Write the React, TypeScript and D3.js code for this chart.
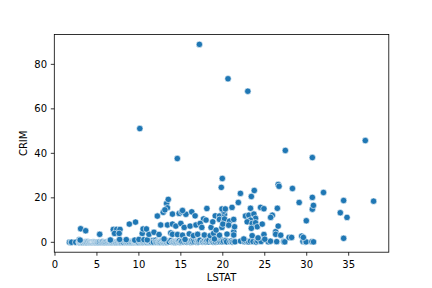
import React from "react";
import * as d3 from "d3";

// [LSTAT, CRIM] pairs
const lowBand: [number, number][] = [
  [1.73,0.02],[1.92,0.06],[1.98,0.03],[2.47,0.05],[2.87,0.09],[2.88,0.02],[2.94,0.03],[2.96,0.04],[2.97,0.01],[2.98,0.06],
  [3.01,0.03],[3.11,0.05],[3.16,0.1],[3.26,0.02],[3.33,0.04],[3.53,0.08],[3.54,0.03],[3.56,0.06],[3.57,0.2],[3.59,0.02],
  [3.7,0.13],[3.76,0.04],[3.81,0.05],[3.92,0.07],[3.95,0.3],[4.03,0.03],[4.14,0.06],[4.16,0.02],[4.21,0.09],[4.32,0.04],
  [4.38,0.1],[4.45,0.05],[4.5,0.03],[4.56,0.2],[4.59,0.06],[4.61,0.04],[4.63,0.08],[4.67,0.02],[4.69,0.05],[4.7,0.12],
  [4.73,0.03],[4.74,0.06],[4.81,0.04],[4.82,0.09],[4.84,0.03],[4.85,0.05],[4.86,0.02],[4.97,0.07],[4.98,0.01],
  [5.03,0.05],[5.08,0.1],[5.12,0.03],[5.21,0.03],[5.29,0.2],[5.33,0.07],[5.49,0.04],[5.52,0.06],[5.64,0.1],[5.7,0.3],
  [5.81,0.05],[5.9,0.02],[5.99,0.08],[6.05,0.04],[6.15,0.15],[6.27,0.06],[6.36,0.03],[6.47,0.1],[6.53,0.05],[6.58,0.62],
  [6.65,0.04],[6.72,0.09],[6.78,0.02],[6.86,0.07],[6.92,0.3],[7.01,0.05],[7.14,0.11],[7.2,0.03],[7.26,0.06],[7.37,0.2],
  [7.44,0.04],[7.53,0.08],[7.6,0.5],[7.7,0.05],[7.79,0.1],[7.85,0.03],[7.9,0.07],[8.05,0.15],[8.16,0.04],[8.26,0.63],
  [8.43,0.06],[8.47,0.63],[8.58,0.1],[8.65,0.05],[8.77,0.2],[8.88,0.04],[9.04,0.08],[9.1,0.3],[9.14,0.03],[9.25,0.06],
  [9.38,0.12],[9.45,0.05],[9.5,0.4],[9.53,0.07],[9.59,0.03],[9.64,0.1],[9.69,0.25],[9.8,0.06],[9.88,0.09],[9.97,0.04],
  [10.13,0.3],[10.19,0.08],[10.26,0.64],[10.3,0.05],[10.4,0.2],[10.45,0.1],[10.53,0.06],[10.59,0.5],[10.74,0.09],[10.88,0.15],
  [10.97,0.04],[11.1,0.3],[11.22,0.08],[11.28,0.73],[11.34,0.06],[11.41,0.2],[11.48,0.1],[11.64,0.4],[11.69,0.8],[11.74,0.05],
  [11.98,0.9],[12.03,0.12],[12.13,0.07],[12.26,0.3],[12.34,0.05],[12.43,0.09],[12.5,0.2],[12.6,0.06],[12.67,0.5],[12.8,0.77],
  [12.87,0.1],[12.93,0.04],[13.04,0.35],[13.11,0.08],[13.22,0.15],[13.27,0.12],[13.34,0.06],[13.45,0.6],[13.51,0.1],[13.61,0.2],
  [13.83,0.85],[13.98,0.07],[14.1,0.3],[14.15,0.1],[14.27,0.05],[14.36,0.4],[14.43,0.15],[14.52,0.08],[14.64,0.2],[14.69,0.5],
  [14.79,0.1],[14.81,0.67],[14.98,0.06],[15.03,0.25],[15.12,0.4],[15.37,0.1],[15.55,0.3],[15.7,0.09],[15.71,0.09],[15.84,0.5],
  [15.94,0.2],[16.14,0.06],[16.22,0.35],[16.3,0.75],[16.42,0.12],[16.51,0.84],[16.65,0.2],[16.9,0.08],[16.96,0.4],[17.1,0.17],
  [17.16,0.6],[17.28,0.96],[17.58,0.15],[17.64,0.3],[17.79,0.5],[17.93,0.1],[18.05,0.25],[18.13,0.7],[18.33,0.2],[18.35,0.9],
  [18.66,0.35],[18.72,0.6],[18.85,0.15],[19.01,0.4],[19.15,0.14],[19.37,0.25],[19.52,0.5],[19.69,0.3],[19.88,0.99],[19.92,0.2],
  [20.08,0.45],[20.34,0.8],[20.45,0.22],[20.85,0.35],[21.02,0.6],[21.14,0.15],[21.32,0.4],[21.45,0.25],[22.11,0.55],[22.6,0.3],
  [22.74,0.7],[23.09,0.2],[23.29,0.5],[23.6,0.35],[23.97,0.15],[24.16,0.6],[24.56,0.4],[25.41,0.25],[25.68,0.5],[26.42,0.3],
  [27.26,0.35],[27.38,0.2],[29.55,0.4],[29.83,0.15],[29.93,0.21],[30.62,0.3],[30.81,0.2],
];

const lowMid: [number, number][] = [
  [2.9,1.2],[3.0,1.0],[5.33,3.6],[6.6,1.05],[7.7,1.3],[8.5,1.2],[9.5,1.0],[10.0,1.3],[10.6,1.2],[11.0,1.1],
  [10.4,4.0],[11.2,3.6],[11.8,4.5],[12.4,3.5],[13.0,1.5],[13.8,4.2],[14.0,3.6],[14.6,3.5],[15.2,3.2],[15.5,1.3],
  [16.0,3.8],[16.5,3.0],[17.0,3.6],[17.8,3.3],[18.5,3.0],[18.9,4.0],[19.0,1.5],[19.6,3.2],[20.5,3.7],[21.3,4.8],
  [21.3,3.3],[22.5,1.5],[23.5,3.0],[24.2,2.0],[24.9,3.5],[25.0,1.4],[26.3,4.8],[26.3,3.6],[26.9,3.2],[27.9,2.2],
  [28.2,2.2],[29.4,2.8],[29.6,2.2],[34.4,1.8],
];

const midRange: [number, number][] = [
  [3.06,6.1],[3.66,5.2],[6.95,5.8],[7.35,5.8],[7.75,5.8],[7.1,4.0],[7.65,4.0],[8.86,8.2],[9.6,9.1],[10.5,6.0],
  [10.9,6.0],[12.2,11.8],[12.9,13.5],[13.3,17.5],[12.6,7.8],[13.4,15.5],[14.0,12.7],[14.8,13.0],[15.1,13.7],[15.6,12.6],
  [16.3,13.7],[16.7,11.9],[18.1,15.2],[17.7,10.5],[19.1,11.9],[19.6,11.8],[20.2,12.6],[13.4,7.8],[14.0,8.2],[14.4,7.3],
  [15.0,8.5],[15.4,6.7],[16.1,7.3],[16.8,7.8],[17.3,8.5],[17.5,6.7],[18.0,10.0],[18.6,6.7],[18.8,9.2],[19.2,5.5],
  [19.6,10.3],[19.9,6.7],[20.1,9.2],[13.1,14.6],[15.2,14.3],[13.5,19.3],[20.1,14.0],[22.7,11.8],[23.1,12.2],[23.7,12.7],
  [23.9,10.8],[23.3,10.0],[22.9,9.2],[23.5,8.5],[23.9,8.8],[24.1,7.0],[24.7,8.2],[23.4,6.3],[25.9,12.2],[25.7,11.2],
  [20.2,10.5],[20.0,8.2],[20.8,9.5],[21.3,10.3],[21.4,7.0],[20.7,7.7],[29.95,9.7],[26.6,7.3],[34.0,13.3],[34.8,11.2],
  [19.9,15.0],[20.3,15.0],[21.1,15.7],[23.3,15.3],[24.5,15.7],[24.9,15.1],[26.5,15.3],[30.67,14.9],[30.8,16.6],[29.1,17.9],
  [21.85,17.9],[34.4,18.8],[37.97,18.5],
];

const highRange: [number, number][] = [
  [17.21,88.98],[10.11,51.14],[20.62,73.53],[22.98,67.92],[36.98,45.75],[14.58,37.66],[19.94,28.7],[19.82,24.7],
  [27.45,41.3],[30.67,38.1],[26.6,26.0],[26.7,25.2],[28.3,24.2],[22.1,22.0],[23.75,23.3],[23.4,20.6],[32.0,22.4],
  [30.67,20.2],
];

const xTicks = [0, 5, 10, 15, 20, 25, 30, 35];
const yTicks = [0, 20, 40, 60, 80];
const xLabel = "LSTAT";
const yLabel = "CRIM";

export default function App() {
  const W = 432, H = 288;
  const left = 54.3, right = 388.8, top = 34.5, bottom = 252.2;
  const x = d3.scaleLinear().domain([-0.08, 39.78]).range([left, right]);
  const y = d3.scaleLinear().domain([-4.44, 93.42]).range([bottom, top]);
  const points = [...lowBand, ...lowMid, ...midRange, ...highRange];
  const font = "'DejaVu Sans', sans-serif";
  return (
    <svg width={W} height={H} style={{ position: "absolute", left: 0, top: 0, display: "block" }}>
      <rect x={0} y={0} width={W} height={H} fill="#fff" />
      <g>
        {points.map((p, i) => (
          <circle key={i} cx={x(p[0])} cy={y(p[1])} r={3.2} fill="#1f77b4" stroke="#fff" strokeWidth={0.6} />
        ))}
      </g>
      <rect x={left} y={top} width={right - left} height={bottom - top} fill="none" stroke="#000" strokeWidth={0.8} />
      {xTicks.map((t) => (
        <g key={"x" + t}>
          <line x1={x(t)} x2={x(t)} y1={bottom} y2={bottom + 3.5} stroke="#000" strokeWidth={0.8} />
          <text x={x(t)} y={268} textAnchor="middle" fontSize={10} fontFamily={font} fill="#000">{t}</text>
        </g>
      ))}
      {yTicks.map((t) => (
        <g key={"y" + t}>
          <line x1={left} x2={left - 3.5} y1={y(t)} y2={y(t)} stroke="#000" strokeWidth={0.8} />
          <text x={47} y={y(t) + 3.6} textAnchor="end" fontSize={10} fontFamily={font} fill="#000">{t}</text>
        </g>
      ))}
      <text x={(left + right) / 2} y={280.5} textAnchor="middle" fontSize={10} fontFamily={font} fill="#000">{xLabel}</text>
      <text transform={`translate(27,${(top + bottom) / 2}) rotate(-90)`} textAnchor="middle" fontSize={10} fontFamily={font} fill="#000">{yLabel}</text>
    </svg>
  );
}
